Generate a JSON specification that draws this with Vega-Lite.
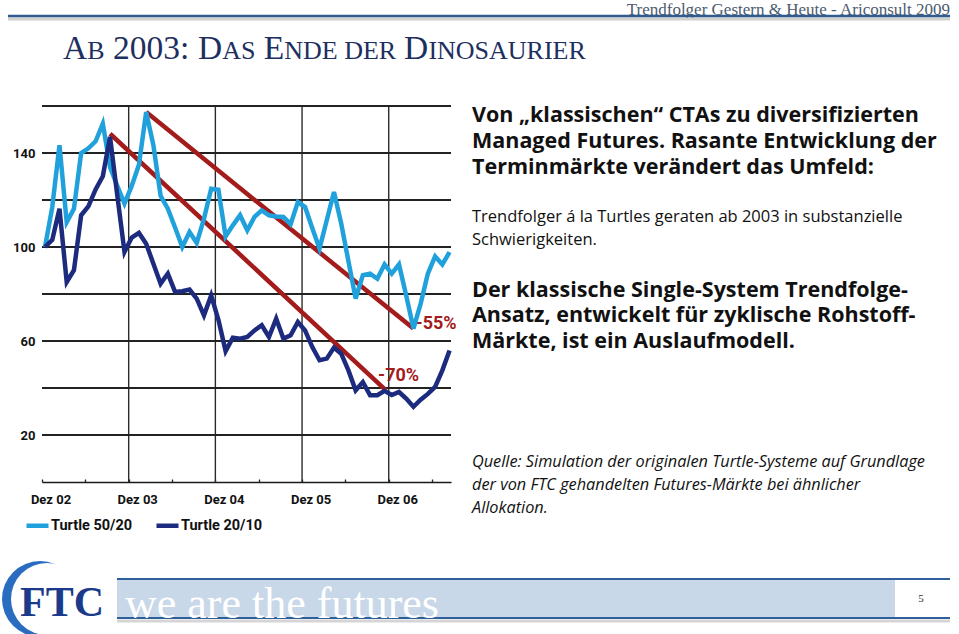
{
  "$schema": "https://vega.github.io/schema/vega-lite/v6.json",
  "width": 409,
  "height": 376,
  "autosize": "none",
  "padding": {"left": 42, "top": 106, "right": 508, "bottom": 152},
  "background": "white",
  "config": {
    "view": {"stroke": null},
    "axis": {"labelFont": "Roboto", "labelFontWeight": "bold", "labelColor": "#111111", "grid": false}
  },
  "datasets": {
    "series": [
      {"m":0,"v":100,"s":"Turtle 50/20"},{"m":1,"v":117,"s":"Turtle 50/20"},{"m":2,"v":143.3,"s":"Turtle 50/20"},{"m":3,"v":110.6,"s":"Turtle 50/20"},{"m":4,"v":116.3,"s":"Turtle 50/20"},{"m":5,"v":140,"s":"Turtle 50/20"},{"m":6,"v":142,"s":"Turtle 50/20"},{"m":7,"v":145,"s":"Turtle 50/20"},{"m":8,"v":152.5,"s":"Turtle 50/20"},{"m":9,"v":134,"s":"Turtle 50/20"},{"m":10,"v":126,"s":"Turtle 50/20"},{"m":11,"v":118.5,"s":"Turtle 50/20"},{"m":12,"v":126,"s":"Turtle 50/20"},{"m":13,"v":135,"s":"Turtle 50/20"},{"m":14,"v":157.4,"s":"Turtle 50/20"},{"m":15,"v":143.3,"s":"Turtle 50/20"},{"m":16,"v":121.8,"s":"Turtle 50/20"},{"m":17,"v":116.3,"s":"Turtle 50/20"},{"m":18,"v":108.3,"s":"Turtle 50/20"},{"m":19,"v":100,"s":"Turtle 50/20"},{"m":20,"v":106.4,"s":"Turtle 50/20"},{"m":21,"v":101.7,"s":"Turtle 50/20"},{"m":22,"v":112,"s":"Turtle 50/20"},{"m":23,"v":124.8,"s":"Turtle 50/20"},{"m":24,"v":124.4,"s":"Turtle 50/20"},{"m":25,"v":104.5,"s":"Turtle 50/20"},{"m":26,"v":109.2,"s":"Turtle 50/20"},{"m":27,"v":113.5,"s":"Turtle 50/20"},{"m":28,"v":107.1,"s":"Turtle 50/20"},{"m":29,"v":112.8,"s":"Turtle 50/20"},{"m":30,"v":115.6,"s":"Turtle 50/20"},{"m":31,"v":113.5,"s":"Turtle 50/20"},{"m":32,"v":113,"s":"Turtle 50/20"},{"m":33,"v":112.8,"s":"Turtle 50/20"},{"m":34,"v":109.7,"s":"Turtle 50/20"},{"m":35,"v":119.1,"s":"Turtle 50/20"},{"m":36,"v":117,"s":"Turtle 50/20"},{"m":37,"v":108,"s":"Turtle 50/20"},{"m":38,"v":99.3,"s":"Turtle 50/20"},{"m":39,"v":111.4,"s":"Turtle 50/20"},{"m":40,"v":123.4,"s":"Turtle 50/20"},{"m":41,"v":110,"s":"Turtle 50/20"},{"m":42,"v":94,"s":"Turtle 50/20"},{"m":43,"v":78,"s":"Turtle 50/20"},{"m":44,"v":88,"s":"Turtle 50/20"},{"m":45,"v":88.7,"s":"Turtle 50/20"},{"m":46,"v":86.5,"s":"Turtle 50/20"},{"m":47,"v":92.6,"s":"Turtle 50/20"},{"m":48,"v":88.7,"s":"Turtle 50/20"},{"m":49,"v":92.6,"s":"Turtle 50/20"},{"m":50,"v":79.4,"s":"Turtle 50/20"},{"m":51,"v":65.3,"s":"Turtle 50/20"},{"m":52,"v":75.9,"s":"Turtle 50/20"},{"m":53,"v":88.7,"s":"Turtle 50/20"},{"m":54,"v":96,"s":"Turtle 50/20"},{"m":55,"v":92.6,"s":"Turtle 50/20"},{"m":56,"v":97.8,"s":"Turtle 50/20"},
      {"m":0,"v":100,"s":"Turtle 20/10"},{"m":1,"v":103,"s":"Turtle 20/10"},{"m":2,"v":116.3,"s":"Turtle 20/10"},{"m":3,"v":85.1,"s":"Turtle 20/10"},{"m":4,"v":90.1,"s":"Turtle 20/10"},{"m":5,"v":113.5,"s":"Turtle 20/10"},{"m":6,"v":117.3,"s":"Turtle 20/10"},{"m":7,"v":124.5,"s":"Turtle 20/10"},{"m":8,"v":130.1,"s":"Turtle 20/10"},{"m":9,"v":146.8,"s":"Turtle 20/10"},{"m":10,"v":122,"s":"Turtle 20/10"},{"m":11,"v":97.9,"s":"Turtle 20/10"},{"m":12,"v":104,"s":"Turtle 20/10"},{"m":13,"v":106,"s":"Turtle 20/10"},{"m":14,"v":101.4,"s":"Turtle 20/10"},{"m":15,"v":92.9,"s":"Turtle 20/10"},{"m":16,"v":84.4,"s":"Turtle 20/10"},{"m":17,"v":88.7,"s":"Turtle 20/10"},{"m":18,"v":80.9,"s":"Turtle 20/10"},{"m":19,"v":81.2,"s":"Turtle 20/10"},{"m":20,"v":81.9,"s":"Turtle 20/10"},{"m":21,"v":78,"s":"Turtle 20/10"},{"m":22,"v":70.9,"s":"Turtle 20/10"},{"m":23,"v":79.4,"s":"Turtle 20/10"},{"m":24,"v":69,"s":"Turtle 20/10"},{"m":25,"v":55.7,"s":"Turtle 20/10"},{"m":26,"v":61.4,"s":"Turtle 20/10"},{"m":27,"v":61,"s":"Turtle 20/10"},{"m":28,"v":61.7,"s":"Turtle 20/10"},{"m":29,"v":64.5,"s":"Turtle 20/10"},{"m":30,"v":66.7,"s":"Turtle 20/10"},{"m":31,"v":61.7,"s":"Turtle 20/10"},{"m":32,"v":69.5,"s":"Turtle 20/10"},{"m":33,"v":61,"s":"Turtle 20/10"},{"m":34,"v":62.4,"s":"Turtle 20/10"},{"m":35,"v":68.1,"s":"Turtle 20/10"},{"m":36,"v":64.5,"s":"Turtle 20/10"},{"m":37,"v":57.4,"s":"Turtle 20/10"},{"m":38,"v":51.8,"s":"Turtle 20/10"},{"m":39,"v":52.5,"s":"Turtle 20/10"},{"m":40,"v":57.2,"s":"Turtle 20/10"},{"m":41,"v":54.6,"s":"Turtle 20/10"},{"m":42,"v":47.5,"s":"Turtle 20/10"},{"m":43,"v":39,"s":"Turtle 20/10"},{"m":44,"v":42.5,"s":"Turtle 20/10"},{"m":45,"v":36.9,"s":"Turtle 20/10"},{"m":46,"v":36.9,"s":"Turtle 20/10"},{"m":47,"v":38.8,"s":"Turtle 20/10"},{"m":48,"v":37,"s":"Turtle 20/10"},{"m":49,"v":38.3,"s":"Turtle 20/10"},{"m":50,"v":35.5,"s":"Turtle 20/10"},{"m":51,"v":32,"s":"Turtle 20/10"},{"m":52,"v":35,"s":"Turtle 20/10"},{"m":53,"v":37.5,"s":"Turtle 20/10"},{"m":54,"v":40.5,"s":"Turtle 20/10"},{"m":55,"v":47.5,"s":"Turtle 20/10"},{"m":56,"v":56,"s":"Turtle 20/10"}
    ],
    "trend": [
      {"t":"a","m":14,"v":157.4},{"t":"a","m":51,"v":65.3},
      {"t":"b","m":9,"v":148.2},{"t":"b","m":47.2,"v":39}
    ],
    "pct": [
      {"m":51.3,"v":67.3,"label":"-55%"},
      {"m":46.1,"v":45,"label":"-70%"}
    ],
    "gridY": [
      {"g":20},{"g":40},{"g":60},{"g":80},{"g":100},{"g":120},{"g":140},{"g":160}
    ],
    "gridX": [
      {"gx":11.58},{"gx":23.58},{"gx":35.58},{"gx":47.58}
    ]
  },
  "layer": [
    {
      "data": {"name": "gridX"},
      "mark": {"type": "rule", "color": "#2b2b2b", "strokeWidth": 1.4},
      "encoding": {
        "x": {"field": "gx", "type": "quantitative", "title": null, "scale": {"domain": [-0.42, 56.2], "nice": false, "zero": false},
          "axis": {
            "values": [-0.42, 5.58, 11.58, 17.58, 23.58, 29.58, 35.58, 41.58, 47.58, 53.58],
            "labelExpr": "abs((datum.value+0.42)/12 - round((datum.value+0.42)/12)) < 0.01 ? 'Dez 0' + (2 + round((datum.value+0.42)/12)) : ''",
            "labelFontSize": 13,
            "labelOffset": 8.5,
            "labelPadding": 14,
            "labelFlush": false,
            "labelOverlap": false,
            "tickSize": -3,
            "tickColor": "#222222",
            "tickWidth": 1.3,
            "domainColor": "#1a1a1a",
            "domainWidth": 1.6,
            "grid": false
          }
        }
      }
    },
    {
      "data": {"name": "gridY"},
      "mark": {"type": "rule", "color": "#222222", "strokeWidth": 2},
      "encoding": {
        "x": {"datum": -0.42, "type": "quantitative"},
        "x2": {"datum": 56.2},
        "y": {"field": "g", "type": "quantitative", "title": null, "scale": {"domain": [0, 160], "nice": false},
          "axis": {
            "values": [20, 60, 100, 140],
            "labelFontSize": 13,
            "labelPadding": 7,
            "ticks": false,
            "domain": false,
            "grid": false
          }
        }
      }
    },
    {
      "data": {"name": "trend"},
      "mark": {"type": "line", "color": "#a31b1b", "strokeWidth": 4.5},
      "encoding": {
        "x": {"field": "m", "type": "quantitative", "title": null},
        "y": {"field": "v", "type": "quantitative", "title": null},
        "detail": {"field": "t"}
      }
    },
    {
      "data": {"name": "pct"},
      "mark": {"type": "text", "align": "left", "baseline": "middle", "font": "Roboto", "fontSize": 18, "fontWeight": "bold", "color": "#a31b1b"},
      "encoding": {
        "x": {"field": "m", "type": "quantitative", "title": null},
        "y": {"field": "v", "type": "quantitative", "title": null},
        "text": {"field": "label"}
      }
    },
    {
      "data": {"name": "series"},
      "mark": {"type": "line", "strokeWidth": 4.5},
      "encoding": {
        "x": {"field": "m", "type": "quantitative", "title": null},
        "y": {"field": "v", "type": "quantitative", "title": null},
        "color": {"field": "s", "type": "nominal",
          "scale": {"domain": ["Turtle 50/20", "Turtle 20/10"], "range": ["#21a1dc", "#1d2b7f"]},
          "legend": {
            "title": null, "orient": "none", "legendX": -18, "legendY": 406, "direction": "horizontal",
            "symbolType": "stroke", "symbolStrokeWidth": 4.5, "symbolSize": 484,
            "labelFont": "Roboto", "labelFontSize": 14.5, "labelFontWeight": "bold", "labelColor": "#111111",
            "labelOffset": 0, "columnPadding": 14, "padding": 0
          }
        }
      }
    },
    {
      "data": {"values": [{}]},
      "mark": {"type": "text", "align": "right", "baseline": "alphabetic", "font": "Liberation Serif", "fontSize": 17, "color": "#4d5b6e"},
      "encoding": {"x": {"value": 908}, "y": {"value": -91.5}, "text": {"value": "Trendfolger Gestern & Heute - Ariconsult 2009"}}
    },
    {
      "data": {"values": [{}]},
      "mark": {"type": "rule", "color": "#d0d0d0", "strokeWidth": 3},
      "encoding": {"x": {"value": -34}, "x2": {"value": 908}, "y": {"value": -87}}
    },
    {
      "data": {"values": [{}]},
      "mark": {"type": "rule", "color": "#2f5b8f", "strokeWidth": 2.5},
      "encoding": {"x": {"value": -34}, "x2": {"value": 908}, "y": {"value": -90}}
    },
    {"data": {"values": [{}]}, "mark": {"type": "text", "align": "left", "baseline": "alphabetic", "font": "Liberation Serif", "fontSize": 33.5, "color": "#1d2f5f"}, "encoding": {"x": {"value": 21}, "y": {"value": -47}, "text": {"value": "A"}}},
    {"data": {"values": [{}]}, "mark": {"type": "text", "align": "left", "baseline": "alphabetic", "font": "Liberation Serif", "fontSize": 26, "color": "#1d2f5f"}, "encoding": {"x": {"value": 45.3}, "y": {"value": -47}, "text": {"value": "B"}}},
    {"data": {"values": [{}]}, "mark": {"type": "text", "align": "left", "baseline": "alphabetic", "font": "Liberation Serif", "fontSize": 33.5, "color": "#1d2f5f"}, "encoding": {"x": {"value": 71}, "y": {"value": -47}, "text": {"value": "2003:"}}},
    {"data": {"values": [{}]}, "mark": {"type": "text", "align": "left", "baseline": "alphabetic", "font": "Liberation Serif", "fontSize": 33.5, "color": "#1d2f5f"}, "encoding": {"x": {"value": 155.9}, "y": {"value": -47}, "text": {"value": "D"}}},
    {"data": {"values": [{}]}, "mark": {"type": "text", "align": "left", "baseline": "alphabetic", "font": "Liberation Serif", "fontSize": 26, "color": "#1d2f5f"}, "encoding": {"x": {"value": 180.2}, "y": {"value": -47}, "text": {"value": "AS"}}},
    {"data": {"values": [{}]}, "mark": {"type": "text", "align": "left", "baseline": "alphabetic", "font": "Liberation Serif", "fontSize": 33.5, "color": "#1d2f5f"}, "encoding": {"x": {"value": 221.7}, "y": {"value": -47}, "text": {"value": "E"}}},
    {"data": {"values": [{}]}, "mark": {"type": "text", "align": "left", "baseline": "alphabetic", "font": "Liberation Serif", "fontSize": 26, "color": "#1d2f5f"}, "encoding": {"x": {"value": 242.2}, "y": {"value": -47}, "text": {"value": "NDE DER"}}},
    {"data": {"values": [{}]}, "mark": {"type": "text", "align": "left", "baseline": "alphabetic", "font": "Liberation Serif", "fontSize": 33.5, "color": "#1d2f5f"}, "encoding": {"x": {"value": 362.1}, "y": {"value": -47}, "text": {"value": "D"}}},
    {"data": {"values": [{}]}, "mark": {"type": "text", "align": "left", "baseline": "alphabetic", "font": "Liberation Serif", "fontSize": 26, "color": "#1d2f5f"}, "encoding": {"x": {"value": 386.4}, "y": {"value": -47}, "text": {"value": "INOSAURIER"}}},
    {
      "data": {"values": [{}]},
      "mark": {"type": "text", "align": "left", "baseline": "alphabetic", "font": "Open Sans", "fontSize": 21.5, "fontWeight": "bold", "color": "#111111", "lineHeight": 26},
      "encoding": {"x": {"value": 430}, "y": {"value": 16}, "text": {"value": ["Von „klassischen“ CTAs zu diversifizierten", "Managed Futures. Rasante Entwicklung der", "Terminmärkte verändert das Umfeld:"]}}
    },
    {
      "data": {"values": [{}]},
      "mark": {"type": "text", "align": "left", "baseline": "alphabetic", "font": "Open Sans", "fontSize": 16.5, "color": "#111111", "lineHeight": 23.3},
      "encoding": {"x": {"value": 430}, "y": {"value": 115.7}, "text": {"value": ["Trendfolger á la Turtles geraten ab 2003 in substanzielle", "Schwierigkeiten."]}}
    },
    {
      "data": {"values": [{}]},
      "mark": {"type": "text", "align": "left", "baseline": "alphabetic", "font": "Open Sans", "fontSize": 21.5, "fontWeight": "bold", "color": "#111111", "lineHeight": 25.8},
      "encoding": {"x": {"value": 430}, "y": {"value": 190.7}, "text": {"value": ["Der klassische Single-System Trendfolge-", "Ansatz, entwickelt für zyklische Rohstoff-", "Märkte, ist ein Auslaufmodell."]}}
    },
    {
      "data": {"values": [{}]},
      "mark": {"type": "text", "align": "left", "baseline": "alphabetic", "font": "Open Sans", "fontSize": 16.3, "fontStyle": "italic", "color": "#111111", "lineHeight": 23.2},
      "encoding": {"x": {"value": 430}, "y": {"value": 360.7}, "text": {"value": ["Quelle: Simulation der originalen Turtle-Systeme auf Grundlage", "der von FTC gehandelten Futures-Märkte bei ähnlicher", "Allokation."]}}
    },
    {
      "data": {"values": [{}]},
      "mark": {"type": "rect", "color": "#c9d8e8"},
      "encoding": {"x": {"value": 75}, "x2": {"value": 853}, "y": {"value": 474}, "y2": {"value": 511}}
    },
    {
      "data": {"values": [{}]},
      "mark": {"type": "rule", "color": "#d5d5d5", "strokeWidth": 3},
      "encoding": {"x": {"value": 75}, "x2": {"value": 908}, "y": {"value": 515}}
    },
    {
      "data": {"values": [{}]},
      "mark": {"type": "rule", "color": "#2f5f9a", "strokeWidth": 2},
      "encoding": {"x": {"value": 75}, "x2": {"value": 908}, "y": {"value": 473}}
    },
    {
      "data": {"values": [{}]},
      "mark": {"type": "rule", "color": "#2f5f9a", "strokeWidth": 2},
      "encoding": {"x": {"value": 75}, "x2": {"value": 908}, "y": {"value": 512}}
    },
    {
      "data": {"values": [{}]},
      "mark": {"type": "text", "align": "left", "baseline": "alphabetic", "font": "Liberation Serif", "fontSize": 44, "color": "white"},
      "encoding": {"x": {"value": 83}, "y": {"value": 512}, "text": {"value": "we are the futures"}}
    },
    {
      "data": {"values": [{}]},
      "mark": {"type": "text", "align": "center", "baseline": "alphabetic", "font": "Liberation Serif", "fontSize": 11, "color": "#333333"},
      "encoding": {"x": {"value": 879}, "y": {"value": 496}, "text": {"value": "5"}}
    },
    {
      "data": {"values": [{}]},
      "mark": {"type": "circle", "size": 5776, "color": "#2a6cc0", "opacity": 1},
      "encoding": {"x": {"value": -2}, "y": {"value": 493}}
    },
    {
      "data": {"values": [{}]},
      "mark": {"type": "circle", "size": 5184, "color": "white", "opacity": 1},
      "encoding": {"x": {"value": 5}, "y": {"value": 493}}
    },
    {
      "data": {"values": [{}]},
      "mark": {"type": "text", "align": "center", "baseline": "alphabetic", "font": "Liberation Serif", "fontSize": 42, "fontWeight": "bold", "color": "#1b3a8b"},
      "encoding": {"x": {"value": 20}, "y": {"value": 510}, "text": {"value": "FTC"}}
    }
  ]
}
